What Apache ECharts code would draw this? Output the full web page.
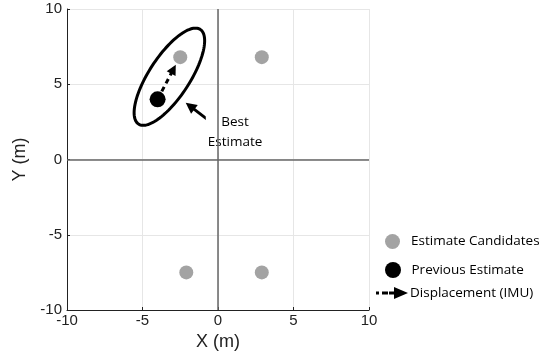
<!DOCTYPE html>
<html>
<head>
<meta charset="utf-8">
<script src="https://cdn.jsdelivr.net/npm/echarts@6/dist/echarts.min.js"></script>
<style>html,body{margin:0;padding:0;background:#fff}#c{width:542px;height:358px}</style>
</head>
<body>
<div id="c"></div>
<script>
var xTicks = [-10, -5, 0, 5, 10];
var yTicks = [-10, -5, 0, 5, 10];
var candidates = [[-2.5, 6.8], [2.9, 6.8], [-2.1, -7.5], [2.9, -7.5]];
var previousEstimate = [[-4.0, 4.0]];
var displacement = [[-4.0, 4.0], [-2.95, 6.0]];
var bestArrow = [[-0.64, 2.62], [-1.85, 3.55]];
var bestLabelPos = [1.13, 1.8];
var ellipseCenter = [-3.22, 5.5];
var ellipseAxes = [3.75, 1.35];
var ellipseAngleDeg = 57;

var FONT = 'Liberation Sans';
var ANN = 'Open Sans';

var chart = echarts.init(document.getElementById('c'), null, {renderer: 'canvas'});

var arrowIcon = 'path://M0,4.5h3v3h-3z M6,4.5h6v3h-6z M13,4.5h6v3h-6z M18,0L32,6L18,12z';

function legendFor(name, left, top, icon, w, h) {
  return {
    data: [{name: name, icon: icon, itemStyle: {borderWidth: 0, opacity: 1}, lineStyle: {width: 0}}],
    orient: 'vertical', left: left, top: top, padding: 0,
    itemWidth: w, itemHeight: h,
    selectedMode: false,
    textStyle: {fontFamily: ANN, fontSize: 13.5, color: '#000', padding: [0, 0, 0, -3]}
  };
}

chart.setOption({
  animation: false,
  grid: {left: 67, right: 173, top: 9, bottom: 48, show: false},
  legend: [
    legendFor('Estimate Candidates', 385, 234, 'circle', 33, 15),
    legendFor('Previous Estimate', 385, 262, 'circle', 33, 16),
    legendFor('Displacement (IMU)', 376, 286, arrowIcon, 32, 12)
  ],
  xAxis: {
    type: 'value', min: -10, max: 10, interval: 5,
    name: 'X (m)', nameLocation: 'middle', nameGap: 20,
    nameTextStyle: {fontFamily: FONT, fontSize: 18, color: '#222'},
    axisLine: {show: true, onZero: false, lineStyle: {color: '#222', width: 1}},
    axisTick: {show: true, inside: true, length: 3, lineStyle: {color: '#222'}},
    axisLabel: {fontFamily: FONT, fontSize: 15, color: '#222', margin: 3,
      formatter: function (v) { return xTicks.indexOf(v) >= 0 ? String(v) : ''; }},
    splitLine: {show: true, lineStyle: {color: '#e6e6e6', width: 1}}
  },
  yAxis: {
    type: 'value', min: -10, max: 10, interval: 5,
    name: 'Y (m)', nameLocation: 'middle', nameGap: 31, nameRotate: 90,
    nameTextStyle: {fontFamily: FONT, fontSize: 18, color: '#222'},
    axisLine: {show: true, onZero: false, lineStyle: {color: '#222', width: 1}},
    axisTick: {show: true, inside: true, length: 3, lineStyle: {color: '#222'}},
    axisLabel: {fontFamily: FONT, fontSize: 15, color: '#222', margin: 5,
      formatter: function (v) { return yTicks.indexOf(v) >= 0 ? String(v) : ''; }},
    splitLine: {show: true, lineStyle: {color: '#e6e6e6', width: 1}}
  },
  series: [
    {
      name: 'zero', type: 'scatter', data: [], silent: true,
      markLine: {
        silent: true, symbol: 'none', animation: false,
        label: {show: false},
        lineStyle: {color: '#666', width: 1.5, type: 'solid'},
        data: [{xAxis: 0}, {yAxis: 0}]
      }
    },
    {
      name: 'ellipse', type: 'custom', silent: true,
      data: [ellipseCenter],
      renderItem: function (params, api) {
        var th = ellipseAngleDeg * Math.PI / 180;
        var pts = [];
        for (var i = 0; i < 120; i++) {
          var t = i / 120 * Math.PI * 2;
          var x = ellipseCenter[0] + ellipseAxes[0] * Math.cos(t) * Math.cos(th) - ellipseAxes[1] * Math.sin(t) * Math.sin(th);
          var y = ellipseCenter[1] + ellipseAxes[0] * Math.cos(t) * Math.sin(th) + ellipseAxes[1] * Math.sin(t) * Math.cos(th);
          pts.push(api.coord([x, y]));
        }
        return {type: 'polygon', shape: {points: pts}, style: {fill: 'none', stroke: '#000', lineWidth: 3}};
      }
    },
    {
      name: 'Estimate Candidates', type: 'scatter', data: candidates,
      symbol: 'circle', symbolSize: 14,
      itemStyle: {color: '#a3a3a3', opacity: 1}
    },
    {
      name: 'Displacement (IMU)', type: 'lines', coordinateSystem: 'cartesian2d',
      data: [{coords: displacement}],
      symbol: ['none', 'triangle'], symbolSize: [0, 10],
      lineStyle: {color: '#000', width: 3, type: [5, 4], opacity: 1, curveness: 0},
      itemStyle: {color: '#000'}
    },
    {
      name: 'Previous Estimate', type: 'scatter', data: previousEstimate,
      symbol: 'circle', symbolSize: 16,
      itemStyle: {color: '#000', opacity: 1}
    },
    {
      name: 'best', type: 'lines', coordinateSystem: 'cartesian2d',
      data: [{coords: bestArrow}],
      symbol: ['none', 'triangle'], symbolSize: [0, 11],
      lineStyle: {color: '#000', width: 3, type: 'solid', opacity: 1},
      itemStyle: {color: '#000'}
    },
    {
      name: 'bestLabel', type: 'scatter', data: [bestLabelPos],
      symbolSize: 0, silent: true,
      itemStyle: {opacity: 1},
      label: {
        show: true, position: 'inside', formatter: 'Best\nEstimate',
        fontFamily: ANN, fontSize: 13.5, lineHeight: 20, color: '#000',
        backgroundColor: '#fff', padding: [0, 2]
      }
    }
  ]
});
</script>
</body>
</html>
